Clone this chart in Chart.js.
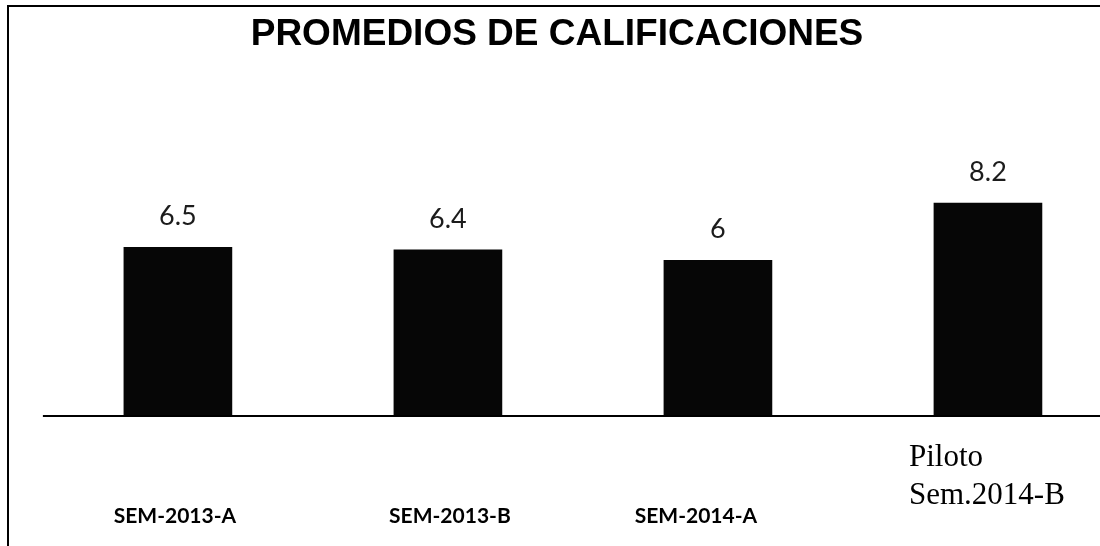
<!DOCTYPE html>
<html>
<head>
<meta charset="utf-8">
<script src="https://cdn.jsdelivr.net/npm/chart.js@4.4.1/dist/chart.umd.min.js"></script>
<style>
  html, body { margin: 0; padding: 0; background: #fff; }
  #wrap { position: relative; width: 1100px; height: 546px; overflow: hidden; }
  #frame { position: absolute; left: 7px; top: 5px; right: -10px; bottom: -10px;
           border-left: 2px solid #000; border-top: 2px solid #000; }
  #promChart { position: absolute; left: 0; top: 0; }
</style>
</head>
<body>
<div id="wrap">
  <div id="frame"></div>
  <canvas id="promChart" width="1100" height="546"></canvas>
</div>
<script>
var semestres = ['SEM-2013-A', 'SEM-2013-B', 'SEM-2014-A', ['Piloto', 'Sem.2014-B']];
var promedios = [6.5, 6.4, 6, 8.2];
var posiciones = [0, 1, 2, 3];

var puntos = posiciones.map(function (p, i) {
    return { x: p, y: promedios[i] };
});

// valores, linea base y nombres de semestre
const etiquetas = {
    id: 'etiquetas',
    afterDatasetsDraw(chart, args, opts) {
        const ctx = chart.ctx;
        const xs = chart.scales.x;
        const y0 = chart.scales.y.getPixelForValue(0);
        ctx.save();

        ctx.strokeStyle = '#000';
        ctx.lineWidth = 2;
        ctx.beginPath();
        ctx.moveTo(xs.getPixelForValue(-0.5), y0);
        ctx.lineTo(chart.chartArea.right, y0);
        ctx.stroke();

        const barras = chart.getDatasetMeta(0).data;
        ctx.fillStyle = '#1c1c1c';
        ctx.textAlign = 'center';
        ctx.textBaseline = 'alphabetic';
        ctx.font = '27px Lato';
        barras.forEach(function (bar, i) {
            ctx.fillText(String(promedios[i]), bar.x, bar.y - 22);
        });

        ctx.fillStyle = '#000';
        barras.forEach(function (bar, i) {
            const txt = semestres[i];
            if (Array.isArray(txt)) {
                ctx.font = '31px "Liberation Serif"';
                ctx.textAlign = 'left';
                txt.forEach(function (linea, k) {
                    ctx.fillText(linea, bar.x + opts.desplaz[i], y0 + 50 + k * 38);
                });
            } else {
                ctx.font = 'bold 21px Lato';
                ctx.textAlign = 'center';
                ctx.fillText(txt, bar.x + opts.desplaz[i], y0 + 107);
            }
        });
        ctx.restore();
    }
};

new Chart(document.getElementById('promChart').getContext('2d'), {
    type: 'bar',
    data: {
        datasets: [
            {
                label: 'Promedio',
                data: puntos,
                backgroundColor: '#060606',
                borderWidth: 0,
                barThickness: 108
            }
        ]
    },
    options: {
        responsive: false,
        animation: false,
        layout: {
            padding: { left: 14, right: 0, top: 0, bottom: 130 }
        },
        plugins: {
            legend: { display: false },
            tooltip: { enabled: false },
            title: {
                display: true,
                text: 'PROMEDIOS DE CALIFICACIONES',
                color: '#000',
                font: { family: '"Liberation Sans", Arial', size: 37, weight: 'bold' },
                padding: { top: 13, bottom: 99 }
            },
            etiquetas: {
                desplaz: [-3, 2, -22, -79]
            }
        },
        scales: {
            x: {
                type: 'linear',
                display: false,
                offset: false,
                min: -0.607,
                max: 3.415
            },
            y: {
                display: false,
                min: 0,
                max: 10
            }
        }
    },
    plugins: [etiquetas]
});
</script>
</body>
</html>
